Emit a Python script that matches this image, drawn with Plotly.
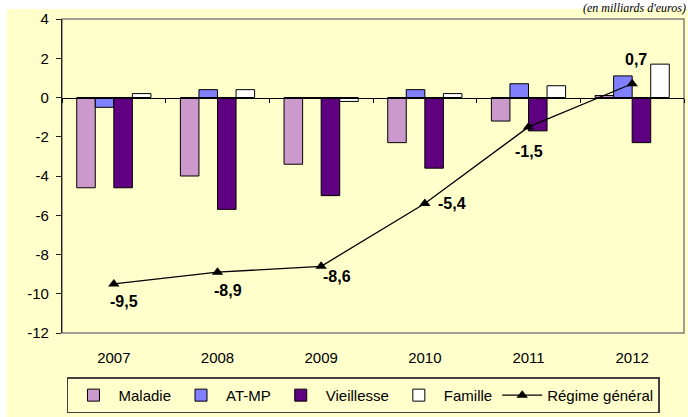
import plotly.graph_objects as go

# Données (en milliards d'euros)
annees = ["2007", "2008", "2009", "2010", "2011", "2012"]
maladie = [-4.6, -4.0, -3.4, -2.3, -1.2, 0.1]
at_mp = [-0.5, 0.4, 0.0, 0.4, 0.7, 1.1]
vieillesse = [-4.6, -5.7, -5.0, -3.6, -1.7, -2.3]
famille = [0.2, 0.4, -0.2, 0.2, 0.6, 1.7]
regime_general = [-9.5, -8.9, -8.6, -5.4, -1.5, 0.7]
etiquettes = ["-9,5", "-8,9", "-8,6", "-5,4", "-1,5", "0,7"]
# decalage des etiquettes (px) par rapport aux points
decal_x = [10, 10, 16, 27, 0, 4]
decal_y = [-18, -18, -10, 0, -25, 24]

graduations = [4, 2, 0, -2, -4, -6, -8, -10, -12]
libelles_grad = ["4", "2", "0", "-2", "-4", "-6", "-8", "-10", "-12"]

jaune = "#FFFFCC"
police = "Liberation Sans, Arial, sans-serif"

fig = go.Figure()

series = [
    ("Maladie", maladie, "#CC99CC"),
    ("AT-MP", at_mp, "#8080FF"),
    ("Vieillesse", vieillesse, "#5F0080"),
    ("Famille", famille, "#FFFFFF"),
]
for nom, valeurs, couleur in series:
    fig.add_trace(go.Bar(
        x=annees, y=valeurs, name=nom,
        marker=dict(color=couleur, line=dict(color="black", width=1)),
    ))

fig.add_trace(go.Scatter(
    x=annees, y=regime_general, name="Régime général",
    mode="lines+markers", xaxis="x2",
    line=dict(color="black", width=1.3),
    marker=dict(symbol="triangle-up", size=10, color="black"),
))

# etiquettes de la courbe (axe categoriel : position = rang de l'annee)
for i, (val, txt, dx, dy) in enumerate(zip(regime_general, etiquettes, decal_x, decal_y)):
    fig.add_annotation(
        x=i, y=val, xref="x", yref="y", text="<b>%s</b>" % txt,
        showarrow=False, xshift=dx, yshift=dy,
        font=dict(family="Liberation Sans Narrow, Arial Narrow, Arial", size=16, color="black"),
    )

fig.add_annotation(
    x=1.0048, y=1.06, xref="paper", yref="paper", xanchor="right", yanchor="top",
    text="<i>(en milliards d'euros)</i>", showarrow=False, borderpad=0,
    font=dict(family="Liberation Serif, Times New Roman, serif", size=12, color="black"),
)

# fond jaune et cadre gris de la zone de tracé
fig.add_shape(type="rect", xref="paper", yref="paper", x0=-0.089, x1=1.01, y0=-0.27, y1=1.032,
              fillcolor=jaune, line=dict(width=0), layer="below")
fig.add_shape(type="rect", xref="paper", yref="paper", x0=0, x1=1, y0=0, y1=1,
              fillcolor="rgba(0,0,0,0)", line=dict(color="#808080", width=1.5), layer="below")

fig.update_layout(
    width=688, height=417,
    margin=dict(l=62, r=4, t=19, b=82),
    paper_bgcolor="white", plot_bgcolor="rgba(0,0,0,0)",
    barmode="group", bargap=0.284, bargroupgap=0,
    font=dict(family=police, size=15, color="black"),
    showlegend=True,
    legend=dict(
        orientation="h", x=0.008, y=-0.256, xanchor="left", yanchor="bottom",
        bgcolor=jaune, bordercolor="#404040", borderwidth=1.5,
        itemwidth=40, font=dict(size=15), tracegroupgap=0,
    ),
    xaxis=dict(
        type="category", range=[-0.5, 5.5], showline=False, ticks="",
        showgrid=False, zeroline=False, ticklabelstandoff=14,
    ),
    xaxis2=dict(
        type="category", overlaying="x", anchor="free", position=0.75,
        range=[-0.5, 5.5], showline=True, linecolor="black", linewidth=1.3,
        ticks="outside", tickson="boundaries", ticklen=4, tickcolor="black",
        showticklabels=False, showgrid=False, zeroline=False,
    ),
    yaxis=dict(
        range=[-12, 4], tickvals=graduations, ticktext=libelles_grad,
        showgrid=False, zeroline=False,
        showline=True, linecolor="#202020", linewidth=1.3,
        ticks="outside", ticklen=5, tickcolor="#202020", ticklabelstandoff=4,
    ),
)

fig.write_html("out.html", config={"displayModeBar": False},
               post_script="document.body.style.margin='0';")
